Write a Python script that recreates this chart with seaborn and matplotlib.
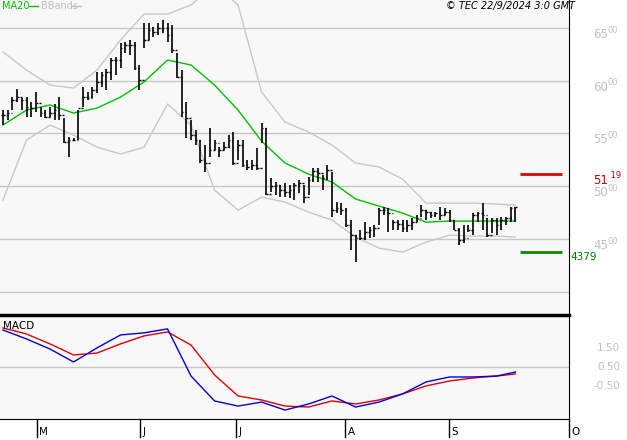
import matplotlib
matplotlib.use("Agg")
import matplotlib.pyplot as plt
import seaborn as sns
import numpy as np
import pandas as pd

highs = [5722,5722,5845,5921,5836,5845,5798,5893,5751,5722,5751,5779,5845,5646,5466,5460,5722,5940,5893,5940,
         6083,6083,6111,6215,6225,6357,6367,6386,6367,6149,6547,6547,6509,6547,6575,6547,6528,6262,6101,5798,
         5627,5533,5438,5391,5552,5438,5372,5419,5485,5514,5438,5438,5248,5248,5362,5599,5552,5078,5040,5011,
         5030,5011,5030,5059,5011,5087,5172,5172,5106,5201,5135,4850,4841,4793,4679,4537,4585,4660,4613,4632,
         4793,4803,4793,4679,4679,4679,4679,4698,4727,4822,4774,4755,4755,4803,4793,4774,4679,4604,4632,4632,
         4746,4755,4841,4698,4698,4698,4708,4708,4803,4803]
lows = [5580,5627,5722,5798,5722,5656,5656,5703,5656,5646,5656,5627,5627,5409,5277,5430,5438,5751,5817,5836,
        5883,5940,5912,6007,6054,6120,6262,6243,6101,5912,6310,6386,6414,6433,6452,6367,6262,6026,5656,5457,
        5438,5391,5220,5135,5277,5343,5277,5343,5362,5201,5248,5182,5153,5153,5153,5409,4916,4945,4916,4897,
        4897,4888,4869,4935,4841,4916,5040,5040,4964,5059,4708,4746,4727,4613,4395,4281,4490,4490,4509,4518,
        4632,4727,4566,4585,4585,4566,4566,4585,4660,4708,4679,4698,4708,4679,4727,4660,4585,4442,4461,4566,
        4537,4660,4585,4518,4556,4537,4585,4632,4660,4660]
closes = [5675,5694,5817,5845,5817,5751,5741,5789,5694,5656,5694,5722,5675,5420,5438,5440,5741,5850,5836,5912,
          5988,6054,6083,6196,6196,6310,6338,6338,6120,6007,6386,6480,6461,6499,6499,6433,6291,6036,5703,5646,
          5485,5438,5248,5220,5343,5409,5343,5372,5438,5220,5391,5201,5182,5201,5170,5552,4926,5002,5011,4964,
          4945,4964,5011,5030,4897,5059,5144,5125,5078,5153,4774,4793,4774,4632,4537,4509,4509,4566,4585,4604,
          4774,4774,4746,4660,4641,4604,4632,4660,4698,4774,4755,4727,4746,4727,4755,4679,4585,4490,4509,4585,
          4727,4746,4727,4537,4679,4632,4679,4698,4793,4803]
opens = [closes[0]] + closes[:-1]

sample_idx = [0,5,10,15,20,25,30,35,40,45,50,55,60,65,70,75,80,85,90,95,100,105,109]
ma20 = [5580,5722,5770,5694,5741,5845,5988,6196,6149,5959,5722,5428,5220,5115,5040,4879,4812,4746,4660,4670,4670,4670,4670]
bb_upper = [6272,6101,5959,5931,6101,6386,6632,6632,6718,6907,6718,5893,5608,5514,5390,5220,5182,5068,4840,4840,4840,4831,4822]
bb_lower = [4869,5438,5580,5485,5371,5305,5371,5779,5580,4964,4774,4897,4850,4755,4679,4518,4414,4376,4471,4537,4528,4528,4518]
macd = [2.18,1.71,1.18,0.5,1.24,1.92,2.03,2.24,-0.24,-1.55,-1.82,-1.61,-2.03,-1.71,-1.29,-1.87,-1.61,-1.18,-0.55,-0.29,-0.29,-0.24,-0.03]
signal = [2.29,1.97,1.45,0.87,0.97,1.45,1.87,2.08,1.39,-0.18,-1.29,-1.5,-1.82,-1.87,-1.55,-1.71,-1.5,-1.18,-0.76,-0.5,-0.34,-0.24,-0.13]

month_pos = [7.2, 29.1, 49.6, 72.8, 94.9, 120.4]
month_labels = ["M", "J", "J", "A", "S", "O"]
price_ticks = [6500, 6000, 5500, 5000, 4500, 4000]
macd_ticks = [1.5, 0.5, -0.5]
macd_labels = ["1.50", "0.50", "-0.50"]
resistance, support = 5119, 4379

W, H = 627, 440
fig = plt.figure(figsize=(W/100, H/100), dpi=100, facecolor="white")
bg = "#f8f8f8"
ax = fig.add_axes([0, 1-315/H, 569/W, 315/H], facecolor=bg)
ax2 = fig.add_axes([0, 1-419/H, 569/W, 104/H], facecolor=bg)
xlim = (-0.64, 120.4)
for a in (ax, ax2):
    a.set_xlim(*xlim)
    for s in ("left", "top", "bottom"):
        a.spines[s].set_visible(False)
    a.spines["right"].set_color("black")
    a.set_yticks([])
    a.set_xticks([])
ax.set_ylim(3780, 6765)
ax2.set_ylim(-2.5, 2.97)
ax2.spines["top"].set_visible(True); ax2.spines["top"].set_linewidth(2.5)
ax2.spines["bottom"].set_visible(True)

for p in price_ticks:
    ax.axhline(p, color="#c8c8c8", lw=1, zorder=0)
ax2.axhline(0.25, color="#c8c8c8", lw=1, zorder=0)

idx = np.arange(len(closes))
ax.vlines(idx, lows, highs, color="black", lw=1.2, zorder=3)
ax.hlines(opens, idx-0.35, idx, color="black", lw=1, zorder=3)
ax.hlines(closes, idx, idx+0.35, color="black", lw=1, zorder=3)

bands = pd.DataFrame({"i": sample_idx, "ma": ma20, "up": bb_upper, "lo": bb_lower, "macd": macd, "sig": signal})
sns.lineplot(data=bands, x="i", y="up", ax=ax, color="#c8c8c8", lw=1, zorder=1)
sns.lineplot(data=bands, x="i", y="lo", ax=ax, color="#c8c8c8", lw=1, zorder=1)
sns.lineplot(data=bands, x="i", y="ma", ax=ax, color="#00c000", lw=1, zorder=2)
sns.lineplot(data=bands, x="i", y="sig", ax=ax2, color="#e00000", lw=1)
sns.lineplot(data=bands, x="i", y="macd", ax=ax2, color="#0000e0", lw=1)
for a in (ax, ax2):
    a.set_xlabel(""); a.set_ylabel("")
    a.set_xlim(*xlim)

ax.hlines(resistance, 110.0, 118.9, color="#e00000", lw=2, zorder=4)
ax.hlines(support, 110.0, 118.9, color="#009000", lw=2, zorder=4)

ytr = ax.get_yaxis_transform()
for p in price_ticks[:-1]:
    s = f"{p:.0f}"
    ax.text(1.0685, p-60, s[:2], transform=ytr, ha="right", va="center", fontsize=8.5, color="#c0c0c0", clip_on=False)
    ax.text(1.0685, p-20, s[2:], transform=ytr, ha="left", va="center", fontsize=6, color="#c0c0c0", clip_on=False)
ax.text(1.0685, resistance-60, "51", transform=ytr, ha="right", va="center", fontsize=8.5, color="#c00000", clip_on=False)
ax.text(1.0685, resistance-20, " 19", transform=ytr, ha="left", va="center", fontsize=6, color="#c00000", clip_on=False)
ax.text(1.003, support-50, "4379", transform=ytr, ha="left", va="center", fontsize=7.5, color="#008000", clip_on=False)

ytr2 = ax2.get_yaxis_transform()
for v, l in zip(macd_ticks, macd_labels):
    ax2.text(1.09, v - 0.25, l, transform=ytr2, ha="right", va="center", fontsize=7.5, color="#c0c0c0", clip_on=False)
ax2.text(0.005, 2.4, "MACD", transform=ytr2, fontsize=7.5, color="black", va="center")

xtr = ax2.get_xaxis_transform()
for pos, lab in zip(month_pos, month_labels):
    ax2.plot([pos, pos], [0, -0.17], color="black", lw=1, transform=xtr, clip_on=False)
    ax2.text(pos + 0.5, -0.125, lab, transform=xtr, fontsize=7.5, ha="left", va="center", clip_on=False)

fig.text(2/W, 1-6/H, "MA20", color="#00c000", fontsize=7, va="center")
fig.add_artist(plt.Line2D([29/W, 38/W], [1-6/H, 1-6/H], color="#00c000", lw=1))
fig.text(41/W, 1-6/H, "BBands", color="#c0c0c0", fontsize=7, va="center")
fig.add_artist(plt.Line2D([71/W, 81/W], [1-6/H, 1-6/H], color="#c0c0c0", lw=1))
fig.text(575/W, 1-6/H, "© TEC 22/9/2024 3:0 GMT", fontsize=7, style="italic", ha="right", va="center")

fig.savefig("out.png", dpi=100, facecolor="white")
